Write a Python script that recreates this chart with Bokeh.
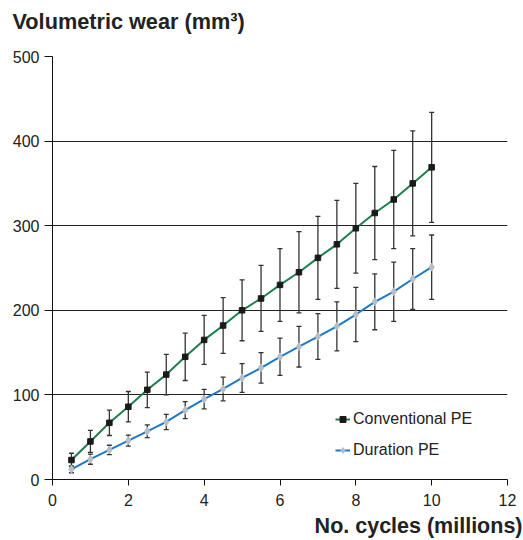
from bokeh.plotting import figure
from bokeh.models import (ColumnDataSource, Whisker, TeeHead, Legend, LegendItem,
                          Title, FixedTicker, Range1d)
from bokeh.embed import file_html
from bokeh.resources import INLINE

# ---- data ----
cycles = [0.5, 1, 1.5, 2, 2.5, 3, 3.5, 4, 4.5, 5, 5.5, 6, 6.5, 7, 7.5, 8, 8.5, 9, 9.5, 10]
conventional = [23, 45, 67, 86, 106, 124, 145, 165, 182, 200, 214, 230, 245, 262, 278, 297, 315, 331, 350, 369]
conventional_err = [8, 13, 15, 18, 21, 24, 28, 29, 33, 36, 39, 43, 48, 49, 52, 53, 55, 58, 62, 65]
duration = [12, 24, 35, 46, 57, 68, 82, 95, 107, 120, 132, 145, 157, 169, 181, 195, 210, 222, 237, 251]
duration_err = [4, 6, 5.5, 6.5, 7.5, 9, 10, 11.5, 14, 17, 18, 22, 24, 27, 29, 32, 33, 35, 36, 38]
x_ticks = [0, 2, 4, 6, 8, 10, 12]
y_ticks = [0, 100, 200, 300, 400, 500]
series_names = ["Conventional PE", "Duration PE"]
title_text = "Volumetric wear (mm\u00b3)"
xlabel_text = "No. cycles (millions)"

FONT = "Liberation Sans"
GREEN = "#1e7f4e"
BLUE = "#1a7ac8"
ERR = "#333333"

conv_src = ColumnDataSource(dict(
    x=cycles, y=conventional,
    lo=[v - e for v, e in zip(conventional, conventional_err)],
    hi=[v + e for v, e in zip(conventional, conventional_err)]))
dur_src = ColumnDataSource(dict(
    x=cycles, y=duration,
    lo=[v - e for v, e in zip(duration, duration_err)],
    hi=[v + e for v, e in zip(duration, duration_err)]))

p = figure(width=523, height=540, output_backend="svg", toolbar_location=None,
           x_range=Range1d(0, 12), y_range=Range1d(0, 500),
           min_border_left=52, min_border_top=56, min_border_right=16, min_border_bottom=61)
p.outline_line_color = None
p.background_fill_color = "white"
p.border_fill_color = "white"

p.xgrid.grid_line_color = None
p.ygrid.grid_line_color = "#222222"
p.ygrid.grid_line_width = 1
p.ygrid.ticker = FixedTicker(ticks=y_ticks)

p.yaxis.ticker = FixedTicker(ticks=y_ticks)
p.xaxis.ticker = FixedTicker(ticks=x_ticks)
for ax in (p.xaxis[0], p.yaxis[0]):
    ax.axis_line_color = "#111111"
    ax.axis_line_width = 1
    ax.major_tick_line_color = "#111111"
    ax.major_tick_in = 0
    ax.minor_tick_line_color = None
    ax.major_label_text_font = FONT
    ax.major_label_text_font_size = "16px"
    ax.major_label_text_color = "#222222"
p.yaxis.major_tick_out = 8
p.yaxis.major_label_standoff = 5
p.xaxis.major_tick_out = 6
p.xaxis.major_label_standoff = 8

# error bars
for src in (conv_src, dur_src):
    w = Whisker(source=src, base="x", lower="lo", upper="hi", dimension="height",
                line_color=ERR, line_width=1.3, level="underlay",
                lower_head=TeeHead(size=5, line_color=ERR, line_width=1.3),
                upper_head=TeeHead(size=5, line_color=ERR, line_width=1.3))
    p.add_layout(w)

l1 = p.line("x", "y", source=conv_src, line_color=GREEN, line_width=2)
m1 = p.scatter("x", "y", source=conv_src, marker="square", size=5.5,
               fill_color="#1a1a1a", line_color="#1a1a1a")
l2 = p.line("x", "y", source=dur_src, line_color=BLUE, line_width=2)
m2 = p.scatter("x", "y", source=dur_src, marker="diamond", size=8,
               fill_color="#b9bec6", line_color="#b9bec6")

legend = Legend(items=[LegendItem(label=series_names[0], renderers=[l1, m1]),
                       LegendItem(label=series_names[1], renderers=[l2, m2])],
                location=(283, 19), padding=0, margin=0, spacing=11,
                glyph_width=15, glyph_height=20, label_height=20, label_standoff=3,
                label_text_font=FONT, label_text_font_size="16px",
                label_text_color="#222222",
                border_line_color=None, background_fill_alpha=0)
p.add_layout(legend)

p.add_layout(Title(text=title_text + "\n ", align="left", offset=-40, standoff=0,
                   text_line_height=0.9,
                   text_font=FONT, text_font_size="21.7px", text_font_style="bold",
                   text_color="#222222"), "above")
p.add_layout(Title(text=xlabel_text, align="right", offset=-15, standoff=6,
                   text_font=FONT, text_font_size="21.5px", text_font_style="bold",
                   text_color="#222222"), "below")

open("out.html", "w").write(file_html(p, INLINE))
